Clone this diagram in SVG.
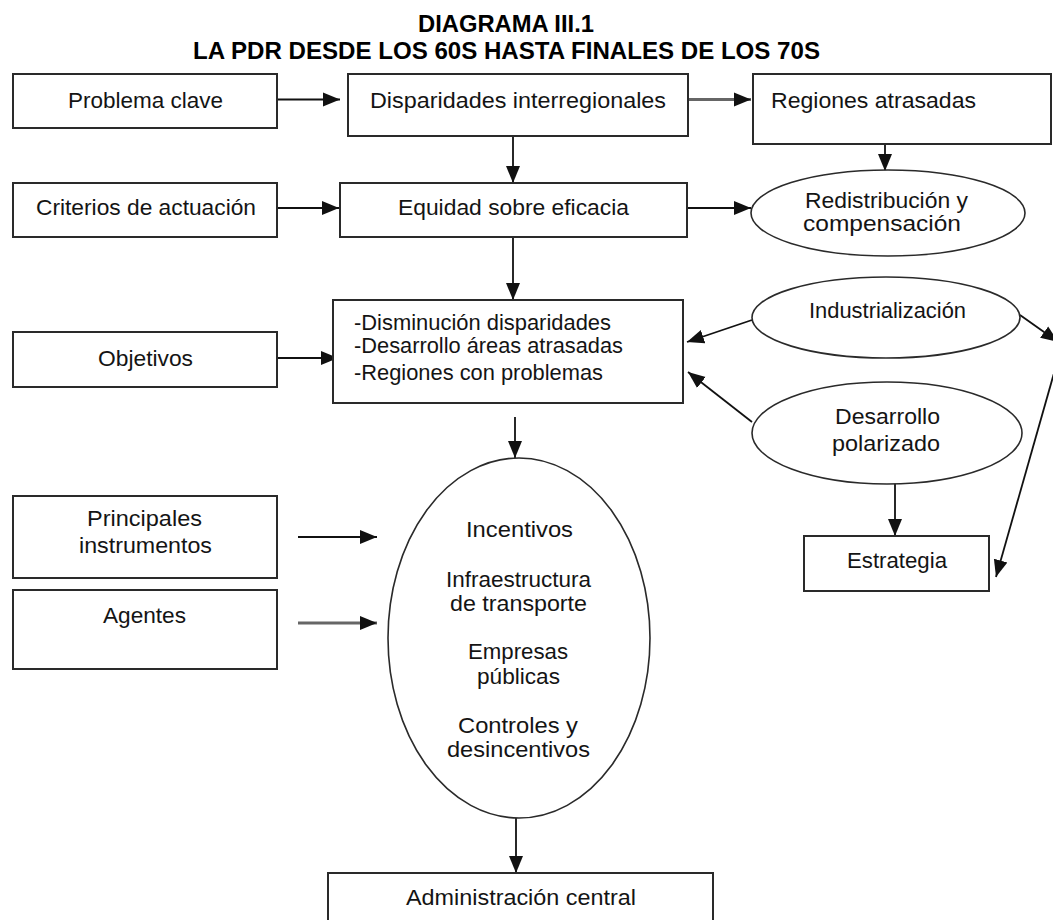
<svg xmlns="http://www.w3.org/2000/svg" width="1053" height="920" viewBox="0 0 1053 920">
<defs>
<marker id="ah" markerUnits="userSpaceOnUse" markerWidth="18" markerHeight="16" refX="17" refY="8" orient="auto">
<path d="M0,1 L17,8 L0,15 z" fill="#111"/>
</marker>
<style>
.box{fill:#fff;stroke:#2a2a2a;stroke-width:2}
.ell{fill:#fff;stroke:#2a2a2a;stroke-width:1.6}
.t{font-family:"Liberation Sans",Arial,sans-serif;font-size:22px;fill:#141414}
.title{font-family:"Liberation Sans",Arial,sans-serif;font-size:24px;font-weight:bold;fill:#000}
.c{fill:none;stroke:#111;stroke-width:1.8;marker-end:url(#ah)}
.g{fill:none;stroke:#666;stroke-width:3;marker-end:url(#ah)}
</style>
</defs>
<rect width="1053" height="920" fill="#fff"/>
<g id="title">
<text class="title" x="418" y="32" textLength="176" lengthAdjust="spacingAndGlyphs">DIAGRAMA III.1</text>
<text class="title" x="193" y="59" textLength="627" lengthAdjust="spacingAndGlyphs">LA PDR DESDE LOS 60S HASTA FINALES DE LOS 70S</text>
</g>
<g id="connectors">
<line class="c" x1="277" y1="99.5" x2="340" y2="99.5"/>
<line class="g" x1="688" y1="99.5" x2="751" y2="99.5"/>
<line class="c" x1="513" y1="136" x2="513" y2="183"/>
<line class="c" x1="885" y1="144" x2="885" y2="171"/>
<line class="c" x1="277" y1="208" x2="339" y2="208"/>
<line class="c" x1="687" y1="208" x2="751" y2="208"/>
<line class="c" x1="513" y1="237" x2="513" y2="300"/>
<line class="c" x1="277" y1="358" x2="338" y2="358"/>
<line class="c" x1="752" y1="320" x2="687" y2="342"/>
<line class="c" x1="752" y1="422" x2="688" y2="372"/>
<line class="c" x1="1020" y1="315" x2="1058" y2="342"/>
<line class="c" x1="1060" y1="352" x2="996" y2="577"/>
<line class="c" x1="895" y1="473" x2="895" y2="536"/>
<line class="c" x1="515" y1="417" x2="515" y2="458"/>
<line class="c" x1="298" y1="537" x2="377" y2="537"/>
<line class="g" x1="298" y1="623" x2="377" y2="623"/>
<line class="c" x1="516" y1="818" x2="516" y2="873"/>
</g>
<g id="n-problema">
<rect class="box" x="13" y="74" width="264" height="54"/>
<text class="t" x="68" y="108" textLength="155" lengthAdjust="spacingAndGlyphs">Problema clave</text>
</g>
<g id="n-disparidades">
<rect class="box" x="348" y="74" width="340" height="62"/>
<text class="t" x="370" y="108" textLength="296" lengthAdjust="spacingAndGlyphs">Disparidades interregionales</text>
</g>
<g id="n-regiones">
<rect class="box" x="753" y="74" width="298" height="70"/>
<text class="t" x="771" y="108" textLength="205" lengthAdjust="spacingAndGlyphs">Regiones atrasadas</text>
</g>
<g id="n-criterios">
<rect class="box" x="13" y="183" width="264" height="54"/>
<text class="t" x="36" y="215" textLength="220" lengthAdjust="spacingAndGlyphs">Criterios de actuación</text>
</g>
<g id="n-equidad">
<rect class="box" x="340" y="183" width="347" height="54"/>
<text class="t" x="398" y="215" textLength="231" lengthAdjust="spacingAndGlyphs">Equidad sobre eficacia</text>
</g>
<g id="n-redistribucion">
<ellipse class="ell" cx="888" cy="213" rx="137" ry="43"/>
<text class="t" x="805" y="208" textLength="163" lengthAdjust="spacingAndGlyphs">Redistribución y</text>
<text class="t" x="803" y="231" textLength="158" lengthAdjust="spacingAndGlyphs">compensación</text>
</g>
<g id="n-objetivos">
<rect class="box" x="13" y="332" width="264" height="55"/>
<text class="t" x="98" y="366" textLength="95" lengthAdjust="spacingAndGlyphs">Objetivos</text>
</g>
<g id="n-objetivos-lista">
<rect class="box" x="333" y="300" width="350" height="103"/>
<text class="t" x="354" y="330" textLength="257" lengthAdjust="spacingAndGlyphs">-Disminución disparidades</text>
<text class="t" x="354" y="353" textLength="269" lengthAdjust="spacingAndGlyphs">-Desarrollo áreas atrasadas</text>
<text class="t" x="354" y="380" textLength="249" lengthAdjust="spacingAndGlyphs">-Regiones con problemas</text>
</g>
<g id="n-industrializacion">
<ellipse class="ell" cx="886" cy="317.5" rx="134" ry="40.5"/>
<text class="t" x="809" y="318" textLength="157" lengthAdjust="spacingAndGlyphs">Industrialización</text>
</g>
<g id="n-desarrollo">
<ellipse class="ell" cx="887" cy="433" rx="135" ry="51"/>
<text class="t" x="835" y="424" textLength="105" lengthAdjust="spacingAndGlyphs">Desarrollo</text>
<text class="t" x="832" y="451" textLength="108" lengthAdjust="spacingAndGlyphs">polarizado</text>
</g>
<g id="n-estrategia">
<rect class="box" x="804" y="536" width="185" height="55"/>
<text class="t" x="847" y="568" textLength="100" lengthAdjust="spacingAndGlyphs">Estrategia</text>
</g>
<g id="n-principales">
<rect class="box" x="13" y="496" width="264" height="82"/>
<text class="t" x="87" y="526" textLength="115" lengthAdjust="spacingAndGlyphs">Principales</text>
<text class="t" x="79" y="553" textLength="133" lengthAdjust="spacingAndGlyphs">instrumentos</text>
</g>
<g id="n-agentes">
<rect class="box" x="13" y="590" width="264" height="79"/>
<text class="t" x="103" y="623" textLength="83" lengthAdjust="spacingAndGlyphs">Agentes</text>
</g>
<g id="n-instrumentos">
<ellipse class="ell" cx="519" cy="638" rx="131" ry="180"/>
<text class="t" x="466" y="537" textLength="107" lengthAdjust="spacingAndGlyphs">Incentivos</text>
<text class="t" x="446" y="587" textLength="145" lengthAdjust="spacingAndGlyphs">Infraestructura</text>
<text class="t" x="450" y="611" textLength="137" lengthAdjust="spacingAndGlyphs">de transporte</text>
<text class="t" x="468" y="659" textLength="100" lengthAdjust="spacingAndGlyphs">Empresas</text>
<text class="t" x="477" y="684" textLength="83" lengthAdjust="spacingAndGlyphs">públicas</text>
<text class="t" x="458" y="733" textLength="120" lengthAdjust="spacingAndGlyphs">Controles y</text>
<text class="t" x="447" y="757" textLength="143" lengthAdjust="spacingAndGlyphs">desincentivos</text>
</g>
<g id="n-administracion">
<rect class="box" x="328" y="873" width="385" height="60"/>
<text class="t" x="406" y="905" textLength="230" lengthAdjust="spacingAndGlyphs">Administración central</text>
</g>
</svg>
